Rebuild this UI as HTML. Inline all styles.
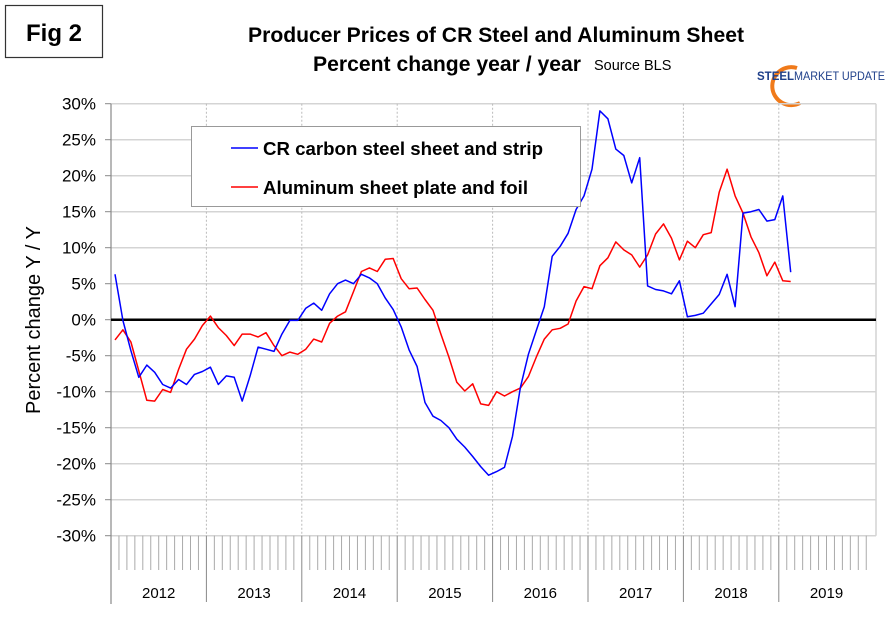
<!DOCTYPE html>
<html><head><meta charset="utf-8"><style>
html,body{margin:0;padding:0;background:#fff;}
svg{display:block;font-family:"Liberation Sans",Arial,sans-serif;}
</style></head><body>
<svg id="chart" width="891" height="622" viewBox="0 0 891 622">
<rect x="0" y="0" width="891" height="622" fill="#fff"/>
<rect x="5.5" y="5.5" width="97" height="52" fill="#fff" stroke="#333" stroke-width="1.2"/>
<text x="54" y="41" text-anchor="middle" font-size="24" font-weight="bold">Fig 2</text>
<text x="496" y="42" text-anchor="middle" font-size="21" font-weight="bold" textLength="496" lengthAdjust="spacingAndGlyphs">Producer Prices of CR Steel and Aluminum Sheet</text>
<text x="447" y="71" text-anchor="middle" font-size="21" font-weight="bold" textLength="268" lengthAdjust="spacingAndGlyphs">Percent change year / year</text>
<text x="594" y="70" font-size="14.5">Source BLS</text>
<g>
<path d="M797 68 A19 19 0 1 0 800 103" fill="none" stroke="#f07a1a" stroke-width="4"/>
<text x="757" y="80" font-size="11.5" font-weight="bold" fill="#1e3f8a">STEEL</text>
<text x="794" y="80" font-size="11.5" fill="#1e3f8a" textLength="91" lengthAdjust="spacingAndGlyphs">MARKET UPDATE</text>
</g>
<g id="grid"></g>
<g id="yaxis"></g>
<g id="xaxis"></g>
<g id="series"></g>
<text transform="translate(40,320) rotate(-90)" text-anchor="middle" font-size="20">Percent change Y / Y</text>
<g>
<rect x="191.5" y="126.5" width="389" height="80" fill="#fff" stroke="#999" stroke-width="1"/>
<line x1="231" y1="148" x2="258" y2="148" stroke="#0000ff" stroke-width="1.5"/>
<text x="263" y="155" font-size="18" font-weight="bold" textLength="280" lengthAdjust="spacingAndGlyphs">CR carbon steel sheet and strip</text>
<line x1="231" y1="187" x2="258" y2="187" stroke="#ff0000" stroke-width="1.5"/>
<text x="263" y="194" font-size="18" font-weight="bold" textLength="265" lengthAdjust="spacingAndGlyphs">Aluminum sheet plate and foil</text>
</g>
</svg>
<script>
const years = ["2012","2013","2014","2015","2016","2017","2018","2019"];
const yTicks = [30,25,20,15,10,5,0,-5,-10,-15,-20,-25,-30];
const steel = [6.3,-0.1,-4.3,-8.0,-6.3,-7.3,-9.0,-9.5,-8.3,-9.0,
-7.6,-7.2,-6.6,-9.0,-7.8,-8.0,-11.3,-7.8,-3.8,-4.1,
-4.4,-2.0,-0.1,-0.1,1.6,2.3,1.3,3.6,5.0,5.5,
5.0,6.3,5.8,5.0,3.0,1.4,-1.0,-4.2,-6.5,-11.5,
-13.4,-14.0,-15.0,-16.6,-17.7,-19.0,-20.4,-21.6,-21.1,-20.5,
-16.2,-9.4,-4.8,-1.5,1.8,8.8,10.2,12.0,15.3,17.2,
20.9,29.0,27.9,23.7,22.8,19.0,22.5,4.7,4.2,4.0,
3.6,5.4,0.4,0.6,0.9,2.2,3.5,6.3,1.8,14.8,
15.0,15.3,13.7,13.9,17.2,6.6];
const aluminum = [-2.8,-1.4,-3.1,-7.1,-11.2,-11.3,-9.7,-10.1,-6.9,-4.1,
-2.7,-0.8,0.5,-1.1,-2.2,-3.6,-2.0,-2.0,-2.4,-1.8,
-3.6,-5.0,-4.5,-4.8,-4.1,-2.7,-3.1,-0.5,0.5,1.1,
3.9,6.7,7.2,6.7,8.4,8.5,5.7,4.3,4.4,2.8,
1.3,-2.0,-5.2,-8.7,-9.9,-8.9,-11.7,-11.9,-10.0,-10.6,
-10.0,-9.5,-7.9,-5.2,-2.7,-1.4,-1.2,-0.6,2.6,4.6,
4.3,7.5,8.6,10.8,9.7,9.0,7.3,9.0,11.9,13.3,
11.3,8.3,10.9,10.0,11.8,12.1,17.7,20.9,17.2,14.8,
11.5,9.3,6.1,8.0,5.4,5.3];

const NS='http://www.w3.org/2000/svg';
const X0=111, MW=7.95, X1=876, YZ=319.7, YS=7.2;
const xMonth = i => X0 + (i+0.5)*MW;
const xBound = m => X0 + m*MW;
const yv = v => YZ - v*YS;
function mk(tag, attrs, parent){const e=document.createElementNS(NS,tag);for(const k in attrs)e.setAttribute(k,attrs[k]);parent.appendChild(e);return e;}
const grid=document.getElementById('grid'), ya=document.getElementById('yaxis'), xa=document.getElementById('xaxis'), ser=document.getElementById('series');

yTicks.forEach(t=>{
  const y=yv(t);
  const g=mk('line',{x1:X0,x2:X1,y1:y,y2:y,stroke:'#d4d4d4','stroke-width':1.5},grid);
  
  
  const tk=mk('line',{x1:X0-6,x2:X0,y1:y,y2:y,stroke:'#888','stroke-width':1},ya);
  
  
  const tx=mk('text',{x:96,y:y+6,'text-anchor':'end','font-size':17},ya);
  tx.textContent=t+'%';
  
  
});
mk('line',{x1:X1,x2:X1,y1:yv(30),y2:yv(-30),stroke:'#d4d4d4','stroke-width':1.5},grid);
years.forEach((yr,k)=>{
  const xb=xBound(k*12);
  if(k>0){
    const v=mk('line',{x1:xb,x2:xb,y1:yv(30),y2:yv(-30),stroke:'#bbb','stroke-width':1,'stroke-dasharray':'2,2'},grid);
    
    
  }
  const b=mk('line',{x1:xb,x2:xb,y1:yv(-30),y2:602,stroke:'#888','stroke-width':1},xa);
  
  
  for(let m=1;m<12;m++){
    const xm=xBound(k*12+m);
    if(xm>X1) break;
    const t=mk('line',{x1:xm,x2:xm,y1:yv(-30),y2:570,stroke:'#aaa','stroke-width':1},xa);
    
    
  }
  const tx=mk('text',{x:xb+6*MW,y:598,'text-anchor':'middle','font-size':15},xa);
  tx.textContent=yr;
  
  
});
const ax=mk('line',{x1:X0,x2:X0,y1:yv(30),y2:604,stroke:'#888','stroke-width':1.2},ya);


const zl=mk('line',{x1:X0,x2:X1,y1:yv(0),y2:yv(0),stroke:'#000','stroke-width':2.5},ser);



function line(data,color,name){
  const d=data.map((v,i)=>(i?'L':'M')+xMonth(i).toFixed(1)+' '+yv(v).toFixed(1)).join(' ');
  const p=mk('path',{d:d,fill:'none',stroke:color,'stroke-width':1.5,'stroke-linejoin':'round'},ser);
  
  
}
line(aluminum,'#ff0000','aluminum-line');
line(steel,'#0000ff','steel-line');
</script>
</body></html>
